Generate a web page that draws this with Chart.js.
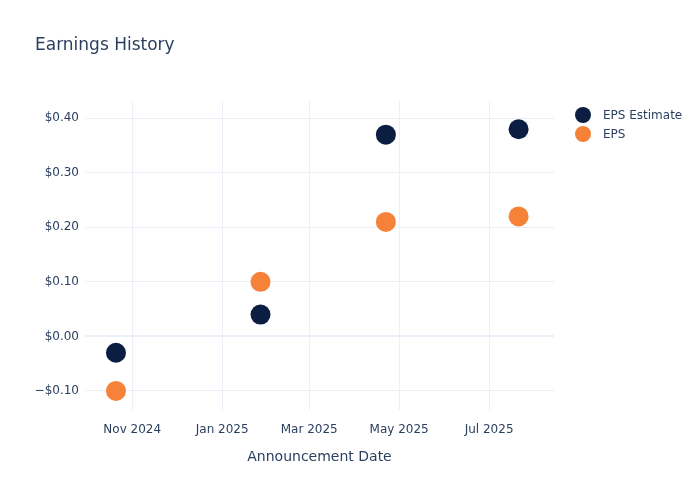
<!DOCTYPE html>
<html>
<head>
<meta charset="utf-8">
<script src="https://cdn.jsdelivr.net/npm/chart.js@4.4.1/dist/chart.umd.min.js"></script>
<style>
  html, body { margin: 0; padding: 0; background: #fff; }
  #wrap { position: relative; width: 700px; height: 500px; }
  #legend { position: absolute; left: 575px; top: 105px; font: 12px "DejaVu Sans", sans-serif; color: #2a3f5f; }
  #legend .item { height: 19px; display: flex; align-items: center; white-space: nowrap; }
  #legend .dot { width: 16px; height: 16px; border-radius: 50%; margin-right: 12px; }
</style>
</head>
<body>
<div id="wrap">
  <canvas id="chart" width="700" height="500"></canvas>
  <div id="legend"></div>
</div>
<script>
// --- datos ---
const announceDates = ['2024-10-21', '2025-01-27', '2025-04-22', '2025-07-21'];
const epsEstimate = [-0.03, 0.04, 0.37, 0.38];
const epsActual = [-0.10, 0.10, 0.21, 0.22];
const yTicks = [-0.1, 0, 0.1, 0.2, 0.3, 0.4];
const xTickDates = ['2024-11-01', '2025-01-01', '2025-03-01', '2025-05-01', '2025-07-01'];
const xTickLabels = ['Nov 2024', 'Jan 2025', 'Mar 2025', 'May 2025', 'Jul 2025'];

const seriesNames = ['EPS Estimate', 'EPS'];
const seriesColors = ['#0b1e41', '#f6823a'];

const toTime = s => Date.parse(s + 'T00:00:00Z');
const textColor = '#2a3f5f';
const gridColor = '#ebf0f8';
const fontFamily = '"DejaVu Sans", sans-serif';

function points(values) {
    return values.map((v, i) => ({ x: toTime(announceDates[i]), y: v }));
}

const datasets = [epsEstimate, epsActual].map((vals, i) => ({
    label: seriesNames[i],
    data: points(vals),
    backgroundColor: seriesColors[i],
    borderWidth: 0,
    pointRadius: 10,
    pointHoverRadius: 10
}));

new Chart(document.getElementById('chart'), {
    type: 'scatter',
    data: { datasets: datasets },
    options: {
        responsive: false,
        animation: false,
        events: [],
        layout: { padding: { left: 35, right: 146, top: 0, bottom: 0 } },
        plugins: {
            legend: { display: false },
            tooltip: { enabled: false },
            title: {
                display: true,
                text: 'Earnings History',
                align: 'start',
                color: textColor,
                font: { family: fontFamily, size: 17, weight: 'normal' },
                padding: { top: 35, bottom: 46 }
            }
        },
        scales: {
            x: {
                type: 'linear',
                min: toTime('2024-09-30'),
                max: toTime('2025-08-14'),
                afterBuildTicks: scale => { scale.ticks = xTickDates.map(d => ({ value: toTime(d) })); },
                afterFit: scale => { scale.height = 90; },
                grid: { color: gridColor, drawTicks: false },
                border: { display: false },
                ticks: {
                    padding: 13,
                    color: textColor,
                    font: { family: fontFamily, size: 12 },
                    maxRotation: 0,
                    callback: (value) => {
                        const idx = xTickDates.findIndex(d => toTime(d) === value);
                        return idx >= 0 ? xTickLabels[idx] : '';
                    }
                },
                title: {
                    display: true,
                    text: 'Announcement Date',
                    color: textColor,
                    font: { family: fontFamily, size: 14 },
                    padding: { top: 0, bottom: 34 }
                }
            },
            y: {
                min: -0.135,
                max: 0.431,
                afterBuildTicks: scale => { scale.ticks = yTicks.map(v => ({ value: v })); },
                afterFit: scale => { scale.width = 50; },
                grid: {
                    drawTicks: false,
                    color: gridColor,
                    lineWidth: ctx => (ctx.tick && ctx.tick.value === 0 ? 2 : 1)
                },
                border: { display: false },
                ticks: {
                    padding: 6,
                    color: textColor,
                    font: { family: fontFamily, size: 12 },
                    callback: v => (v < 0 ? '\u2212$' : '$') + Math.abs(v).toFixed(2)
                }
            }
        }
    }
});

// leyenda en HTML
const legendEl = document.getElementById('legend');
seriesNames.forEach((name, i) => {
    const item = document.createElement('div');
    item.className = 'item';
    item.innerHTML = `<span class="dot" style="background:${seriesColors[i]}"></span>${name}`;
    legendEl.appendChild(item);
});
</script>
</body>
</html>
